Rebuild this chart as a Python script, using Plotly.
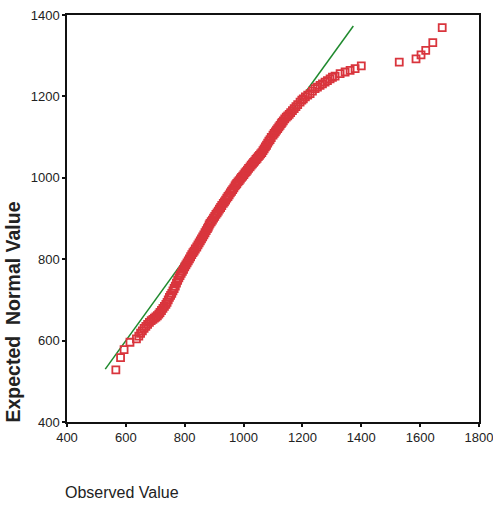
import plotly.graph_objects as go

observed = [
    566, 582, 594, 614, 636, 644, 650, 656, 662, 668, 674, 680, 686, 692, 697, 702, 707, 712, 716, 721,
    726, 731, 736, 740, 744, 748, 752, 756, 760, 764, 768, 772, 776, 780, 784,
    788, 792, 796, 800, 804, 808, 812, 816, 820, 824, 828, 832, 836, 841,
    845, 849, 853, 857, 861, 865, 869, 873, 877, 880, 883, 886,
    890, 894, 898, 902, 906, 910, 914, 918, 922, 926, 931,
    935, 939, 943, 947, 951, 955, 959, 963, 967, 971, 974, 977,
    981, 985, 989, 993, 997, 1001, 1005, 1009, 1013, 1017, 1022,
    1026, 1030, 1034, 1038, 1042, 1046, 1050, 1054, 1058, 1062,
    1066, 1070, 1074, 1078, 1082, 1086, 1090, 1094, 1100,
    1104, 1108, 1112, 1116, 1120, 1124, 1128, 1131, 1135,
    1140, 1145, 1150, 1155, 1160, 1166, 1172, 1178, 1184, 1192,
    1198, 1203, 1210, 1218, 1226, 1234, 1243, 1251, 1260, 1268,
    1277, 1285, 1294, 1302, 1311, 1328, 1345, 1362, 1379, 1400,
    1529, 1586, 1603, 1619, 1643, 1675,
]
expected = [
    528, 558, 578, 596, 604, 611, 618, 624, 630, 635, 640, 645, 649, 652, 655, 658, 661, 665, 669, 674,
    679, 684, 689, 694, 700, 706, 711, 716, 722, 728, 734, 741, 748, 754, 760,
    765, 770, 775, 781, 786, 791, 796, 801, 806, 811, 816, 820, 825, 830,
    835, 840, 845, 850, 855, 860, 865, 870, 875, 879, 884, 888,
    892, 896, 901, 905, 910, 914, 918, 923, 927, 932, 937,
    941, 945, 950, 954, 958, 963, 967, 971, 975, 980, 983, 986,
    990, 993, 997, 1001, 1004, 1008, 1012, 1015, 1019, 1023, 1027,
    1031, 1034, 1038, 1041, 1045, 1048, 1052, 1055, 1059, 1062,
    1067, 1071, 1076, 1080, 1085, 1090, 1094, 1099, 1105,
    1109, 1113, 1117, 1121, 1125, 1129, 1133, 1136, 1140,
    1145, 1149, 1152, 1156, 1160, 1165, 1170, 1175, 1180, 1186,
    1191, 1194, 1199, 1203, 1207, 1213, 1219, 1223, 1227, 1231,
    1235, 1239, 1243, 1247, 1250, 1256, 1260, 1264, 1268, 1275,
    1284, 1292, 1302, 1313, 1332, 1369,
]
# Reference (normal) line endpoints
line_x = [530, 1373]
line_y = [530, 1373]

tick_vals_x = [400, 600, 800, 1000, 1200, 1400, 1600, 1800]
tick_vals_y = [400, 600, 800, 1000, 1200, 1400]

fig = go.Figure()
fig.add_trace(go.Scatter(
    x=line_x, y=line_y, mode="lines",
    line=dict(color="#1f8a2e", width=1.5), showlegend=False, hoverinfo="skip"))
fig.add_trace(go.Scatter(
    x=observed, y=expected, mode="markers",
    marker=dict(symbol="square-open", size=7, color="#d9353d", line=dict(width=1.8, color="#d9353d")),
    showlegend=False))

axis_common = dict(
    showline=True, linecolor="#111", linewidth=1.5, mirror=True,
    showgrid=False, zeroline=False, ticks="outside", ticklen=3, tickwidth=2, tickcolor="#111",
    tickfont=dict(family="Liberation Sans, Arial", size=13, color="#222"),
    ticklabeloverflow="allow", automargin=False,
)
fig.update_xaxes(range=[400, 1800], tickvals=tick_vals_x, **axis_common)
fig.update_yaxes(range=[400, 1400], tickvals=tick_vals_y, **axis_common)

fig.update_layout(
    width=493, height=508,
    margin=dict(l=67, r=14, t=15, b=86, autoexpand=False),
    paper_bgcolor="white", plot_bgcolor="white",
    annotations=[
        dict(text="<b>Expected  Normal Value</b>", textangle=-90, xref="paper", yref="paper",
             x=-0.13, y=0.27, xanchor="center", yanchor="middle", showarrow=False,
             font=dict(family="Liberation Sans, Arial", size=19.5, color="#222")),
        dict(text="Observed Value", xref="paper", yref="paper",
             x=(122 - 67) / 412, y=-(492 - 422) / 407, xanchor="center", yanchor="middle",
             showarrow=False, font=dict(family="Liberation Sans, Arial", size=16, color="#222")),
    ],
)

fig.write_html("out.html")
